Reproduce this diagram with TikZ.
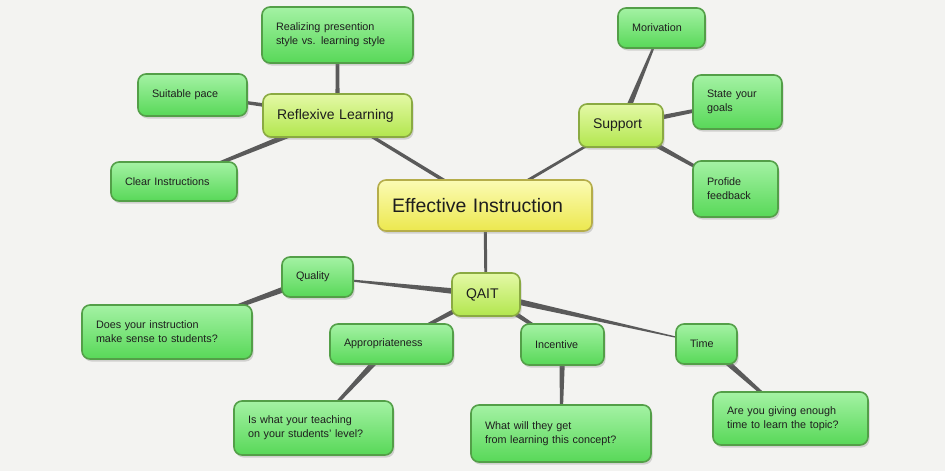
\documentclass[tikz,border=0pt]{standalone}
\usepackage{fontspec}
\setmainfont{Liberation Sans}
\usetikzlibrary{calc,shadows,backgrounds}
\definecolor{bgc}{HTML}{F3F3F1}
\definecolor{linkc}{HTML}{5A5A5A}
\definecolor{txt}{HTML}{1E1E1E}
\definecolor{leaft}{HTML}{A4F2A4}
\definecolor{leafb}{HTML}{58D858}
\definecolor{leafd}{HTML}{539F48}
\definecolor{midt}{HTML}{E4F9A6}
\definecolor{midb}{HTML}{B2E64E}
\definecolor{midd}{HTML}{8AAA42}
\definecolor{coret}{HTML}{FBFBB4}
\definecolor{coreb}{HTML}{ECE84E}
\definecolor{cored}{HTML}{B5AD4A}
\newcommand\taperlink[4]{%
  \fill[linkc] let \p1=(#1.center), \p2=(#2.center), \n1={atan2(\y2-\y1,\x2-\x1)} in
    ($(\p1)+(\n1+90:#3)$) -- ($(\p2)+(\n1+90:#4)$) -- ($(\p2)+(\n1-90:#4)$) -- ($(\p1)+(\n1-90:#3)$) -- cycle;}
\tikzset{
  box/.style={rectangle, rounded corners=8pt, line width=1.6pt, inner xsep=14pt, inner ysep=0pt,
    align=left, text=txt, drop shadow={shadow xshift=1.5pt, shadow yshift=-2.5pt, opacity=0.3}},
  leaf/.style={box, draw=leafd, top color=leaft, bottom color=leafb, font=\fontsize{10.8}{14}\selectfont},
  mid/.style={box, draw=midd, top color=midt, bottom color=midb, font=\fontsize{14}{17}\selectfont},
  core/.style={box, draw=cored, top color=coret, bottom color=coreb, font=\fontsize{19.5}{23}\selectfont},
}
\begin{document}
\begin{tikzpicture}[x=1pt,y=-1pt]
\useasboundingbox (0,0) rectangle (945,471);
% central
\node[core, text width=186pt, minimum height=51pt] (eff) at (485,205.5) {Effective Instruction};
% mid level
\node[mid, text width=121pt, minimum height=43pt] (refl) at (337.5,115.5) {Reflexive Learning};
\node[mid, text width=56pt, minimum height=43pt] (supp) at (621,125.5) {Support};
\node[mid, text width=40pt, minimum height=43pt] (qait) at (486,294.5) {QAIT};
% leaves
\node[leaf, text width=123pt, minimum height=56pt] (real) at (337.5,35) {Realizing presention\\style vs. learning style};
\node[leaf, text width=81pt, minimum height=42pt] (suit) at (192.5,95) {Suitable pace};
\node[leaf, text width=98pt, minimum height=39pt] (clear) at (174,181.5) {Clear Instructions};
\node[leaf, text width=59pt, minimum height=40pt] (mori) at (661.5,28) {Morivation};
\node[leaf, text width=61pt, minimum height=54pt] (state) at (737.5,102) {State your\\goals};
\node[leaf, text width=57pt, minimum height=56pt] (prof) at (735.5,189) {Profide\\feedback};
\node[leaf, text width=43pt, minimum height=40pt] (qual) at (317.5,277) {Quality};
\node[leaf, text width=142pt, minimum height=54pt] (does) at (167,332) {Does your instruction\\make sense to students?};
\node[leaf, text width=95pt, minimum height=40pt] (appr) at (391.5,344) {Appropriateness};
\node[leaf, text width=131pt, minimum height=54pt] (isw) at (313.5,428) {Is what your teaching\\on your students' level?};
\node[leaf, text width=55pt, minimum height=41pt] (inc) at (562.5,344.5) {Incentive};
\node[leaf, text width=152pt, minimum height=57pt] (what) at (561,433.5) {What will they get\\from learning this concept?};
\node[leaf, text width=33pt, minimum height=40pt] (time) at (706.5,344) {Time};
\node[leaf, text width=127pt, minimum height=53pt] (are) at (790.5,418.5) {Are you giving enough\\time to learn the topic?};
\begin{scope}[on background layer]
  \fill[bgc] (0,0) rectangle (945,471);
  \taperlink{eff}{refl}{1.8pt}{1.6pt}
  \taperlink{eff}{supp}{1.6pt}{1.2pt}
  \taperlink{eff}{qait}{1.6pt}{1.4pt}
  \taperlink{refl}{real}{2.2pt}{1.6pt}
  \taperlink{refl}{suit}{2.4pt}{1.2pt}
  \taperlink{refl}{clear}{3.2pt}{1.2pt}
  \taperlink{supp}{mori}{3.2pt}{0.6pt}
  \taperlink{supp}{state}{2.6pt}{1.4pt}
  \taperlink{supp}{prof}{3pt}{1pt}
  \taperlink{qait}{qual}{3.4pt}{0.4pt}
  \taperlink{qait}{appr}{3pt}{1pt}
  \taperlink{qait}{inc}{3pt}{1pt}
  \taperlink{qait}{time}{3.4pt}{0.2pt}
  \taperlink{qual}{does}{3.4pt}{0.8pt}
  \taperlink{appr}{isw}{3.4pt}{0.8pt}
  \taperlink{inc}{what}{3pt}{1pt}
  \taperlink{time}{are}{3.4pt}{0.8pt}
\end{scope}
\end{tikzpicture}
\end{document}
